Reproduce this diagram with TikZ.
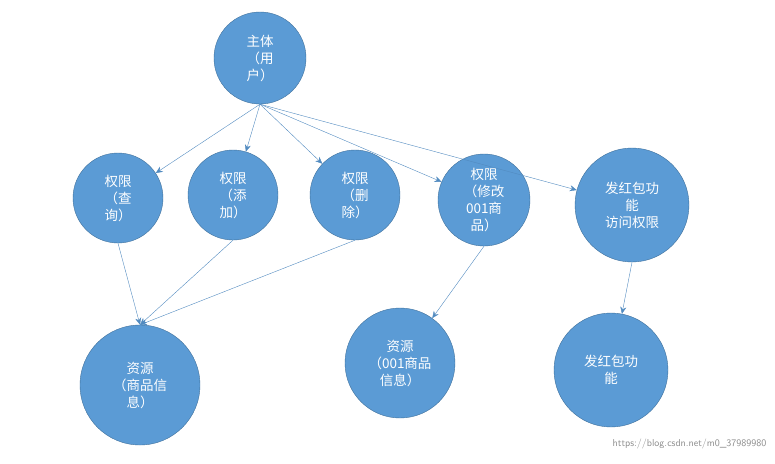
\documentclass[tikz,border=0pt]{standalone}
\usepackage{fontspec}
\newfontfamily\cjk{Noto Sans CJK SC}
\usetikzlibrary{arrows.meta}
\definecolor{ballfill}{HTML}{5B9BD5}
\definecolor{ballline}{HTML}{41719C}
\begin{document}
\begin{tikzpicture}[x=1pt, y=-1pt,
  ball/.style={circle, draw=ballline, fill=ballfill, text=white, align=center,
    inner sep=0pt, font=\cjk\fontsize{13.5}{17}\selectfont},
  link/.style={-{Stealth[length=7pt,width=6pt]}, draw=ballfill!90!black, thin}]
  \useasboundingbox (0,0) rectangle (775,463);
  \node [ball, minimum size=92pt] (user) at (260,58) {主体\\（用\\户）};
%  second row
  \node [ball, minimum size=90pt] (query) at (118,198) {权限\\（查\\询）};
  \node [ball, minimum size=90pt] (add) at (233,195) {权限\\（添\\加）};
  \node [ball, minimum size=90pt] (del) at (355,195) {权限\\（删\\除）};
  \node [ball, minimum size=92pt] (edit) at (484,200) {权限\\（修改\\001商\\品）};
  \node [ball, minimum size=114pt] (hbperm) at (632,205) {发红包功\\能\\访问权限};
%  third row
  \node [ball, minimum size=120pt] (goods) at (140,385) {资源\\（商品信\\息）};
  \node [ball, minimum size=110pt] (good1) at (400,363) {资源\\（001商品\\信息）};
  \node [ball, minimum size=114pt] (hb) at (611,370) {发红包功\\能};

  \foreach \t in {query,add,del,edit,hbperm}
    \draw [link] (user.south) -- (\t);
  \foreach \s in {query,add,del}
    \draw [link] (\s.south) -- (goods.north);
  \draw [link] (edit.south) -- (good1);
  \draw [link] (hbperm.south) -- (hb);

  \node [text=black!45, font=\sffamily\fontsize{10}{12}\selectfont, anchor=east] (mark) at (770,444) {https://blog.csdn.net/m0\_37989980};
\end{tikzpicture}
\end{document}
